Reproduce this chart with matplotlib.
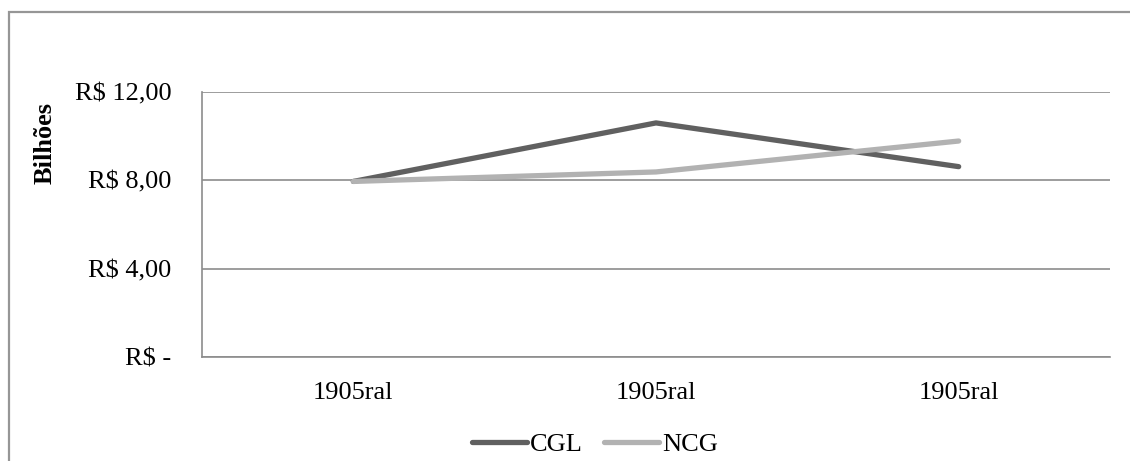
import matplotlib.pyplot as plt
from matplotlib.patches import Rectangle

W, H = 1130, 461

categories = ["1905ral", "1905ral", "1905ral"]
cgl = [7.95, 10.60, 8.62]
ncg = [7.95, 8.38, 9.78]
y_ticks = [0, 4, 8, 12]
y_tick_labels = ["R$ -", "R$ 4,00", "R$ 8,00", "R$ 12,00"]

plt.rcParams["font.family"] = ["Liberation Serif", "DejaVu Serif"]

fig = plt.figure(figsize=(W / 100, H / 100), dpi=100)

# outer chart-area border (cropped at right and bottom)
fig.add_artist(Rectangle((9 / W, -0.05), 1.1, 1 - 12 / H + 0.05,
                         transform=fig.transFigure, fill=False,
                         edgecolor="#969696", linewidth=1.6))

ax = fig.add_axes([202 / W, (H - 357) / H, (1110 - 202) / W, (357 - 92) / H])

x = list(range(len(categories)))
ax.plot(x, cgl, color="#606060", linewidth=3.8, solid_capstyle="round", label="CGL")
ax.plot(x, ncg, color="#b2b2b2", linewidth=3.8, solid_capstyle="round", label="NCG")

ax.set_xlim(-0.5, len(categories) - 0.5)
ax.set_ylim(0, 12)
ax.set_xticks(x)
ax.set_xticklabels(categories, fontsize=19)
ax.set_yticks(y_ticks)
ax.set_yticklabels(y_tick_labels, fontsize=19)
ax.tick_params(axis="x", length=0, pad=18)
ax.tick_params(axis="y", length=0, pad=22)

ax.grid(axis="y", color="#8c8c8c", linewidth=1.2)
ax.set_axisbelow(True)
for side in ["top", "right"]:
    ax.spines[side].set_visible(False)
for side in ["left", "bottom"]:
    ax.spines[side].set_color("#8c8c8c")
    ax.spines[side].set_linewidth(1.2)

fig.text(45 / W, 1 - 143 / H, "Bilhões", rotation=90, fontsize=19,
         fontweight="bold", ha="center", va="center")

fig.legend(loc="center", bbox_to_anchor=(595 / W, 1 - 444 / H), ncol=2,
           frameon=False, fontsize=19, handlelength=2.1, handletextpad=0.1,
           columnspacing=0.8, borderpad=0)

fig.savefig("out.png", dpi=100)
